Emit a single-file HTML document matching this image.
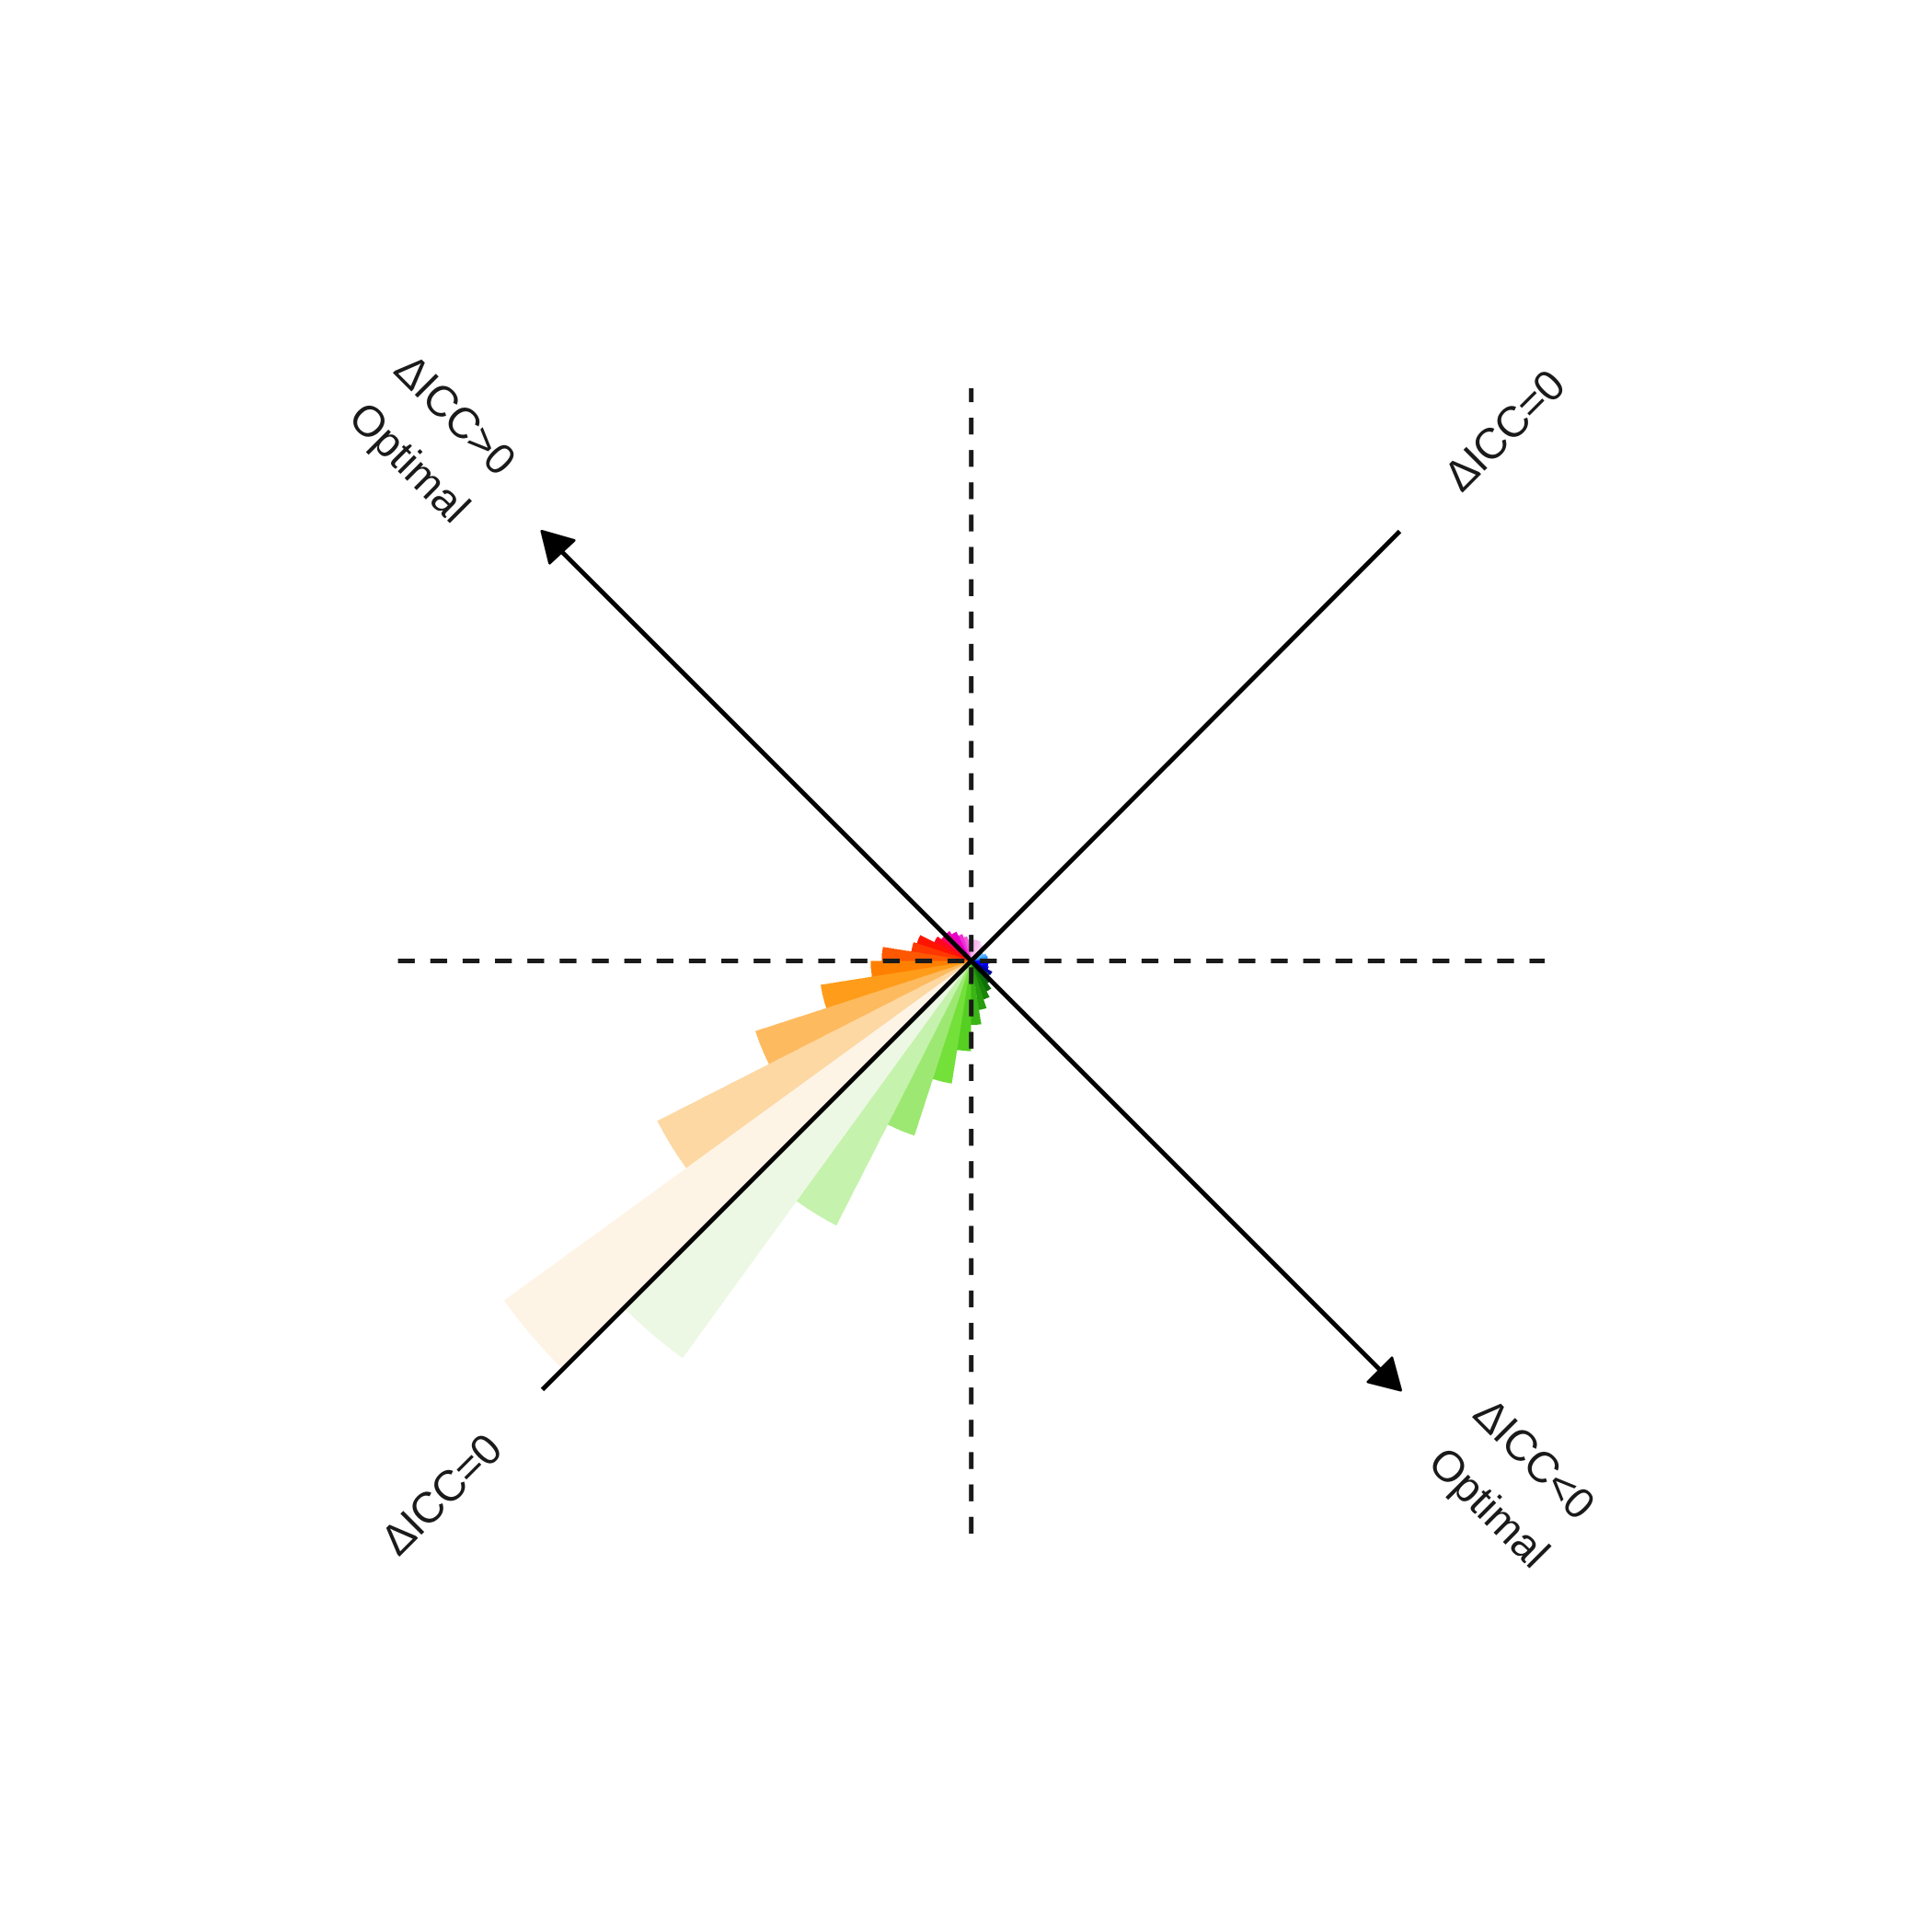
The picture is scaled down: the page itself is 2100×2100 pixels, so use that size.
<!DOCTYPE html>
<html lang="en">
<head>
<meta charset="utf-8">
<title>Rose diagram of delta ICC</title>
<style>
html,body{margin:0;padding:0;background:#fff;width:2100px;height:2100px;overflow:hidden}
svg{display:block}
text{font-family:"Liberation Sans",Arial,sans-serif;font-size:47px;fill:#1a1a1a;text-anchor:middle;dominant-baseline:central}
.delta{letter-spacing:-0.6px}
</style>
</head>
<body>
<svg id="chart" xmlns="http://www.w3.org/2000/svg" width="2100" height="2100" viewBox="0 0 2100 2100">
<rect width="2100" height="2100" fill="#fff"/>
<g id="bars" shape-rendering="crispEdges"></g>
<line x1="1055.7" y1="1667" x2="1055.7" y2="422" stroke="#1a1a1a" stroke-width="5" stroke-dasharray="18.3 16.84"/>
<line x1="432.6" y1="1044.5" x2="1679" y2="1044.5" stroke="#1a1a1a" stroke-width="5" stroke-dasharray="18.3 16.84"/>
<line x1="1055.7" y1="1044.5" x2="1521.5" y2="577.5" stroke="#000" stroke-width="5"/>
<line x1="1055.7" y1="1044.5" x2="589.5" y2="1510.5" stroke="#000" stroke-width="5"/>
<line x1="1055.7" y1="1044.5" x2="605" y2="594" stroke="#000" stroke-width="5"/>
<line x1="1055.7" y1="1044.5" x2="1505" y2="1494" stroke="#000" stroke-width="5"/>
<polygon points="589,577.5 624,587.5 597.5,612" fill="#000" stroke="#000" stroke-width="3" stroke-linejoin="round"/>
<polygon points="1522.5,1511 1513,1476 1487,1502" fill="#000" stroke="#000" stroke-width="3" stroke-linejoin="round"/>
<text class="delta" transform="translate(495 450) rotate(45)">ΔICC&gt;0</text>
<text transform="translate(445.5 502) rotate(45)">Optimal</text>
<text class="delta" transform="translate(1668 1585) rotate(45)">ΔICC&lt;0</text>
<text transform="translate(1619 1638) rotate(45)">Optimal</text>
<text class="delta" transform="translate(479 1624) rotate(-45)">ΔICC=0</text>
<text class="delta" transform="translate(1634.5 467.5) rotate(-45)">ΔICC=0</text>
</svg>
<script>
// Bin start angles in degrees, counter-clockwise from east
const binStartDegrees = [45,54,63,72,81,90,99,108,117,126,135,144,153,162,171,180,189,198,207,216,225,234,243,252,261,270,279,288,297,306,315,324,333,342,351,360,369,378,387,396];
// Bar heights, scaled so the tallest bin is 100
const binValues = [3.2,3.3,3.7,3.7,3.7,3.8,4.3,4.9,5.7,6.4,6.4,7.2,9.9,10.5,15.5,17.4,26.4,39.3,61,100,85,51.4,31.8,21.5,15.6,11.1,8.6,7,5.9,4.8,4,4.1,3.2,3,3.2,2.9,2.9,2.8,2.4,2.1];
const binColors = ['#fbd0f4','#fbd0f4','#f9c4f1','#f8b8ee','#f7b0ec','#f48ee4','#f05cd9','#ee30d4','#e800c8','#ee00b0','#fa0070','#ff0820','#ff1400','#ff3800','#ff5800','#ff8000','#ff9c19','#feba5f','#fdd8a3','#fef4e6','#ecf8e3','#c5f2ac','#9de873','#74e03a','#55cf22','#3ab515','#289d0f','#188508','#0c7004','#0a6020','#004a50','#00009a','#0000d0','#0000ff','#0000ff','#0050ff','#3090ff','#50b0ff','#70c0ff','#90d0ff'];
const binWidthDegrees = 9;
const centerX = 1055.7;
const centerY = 1044.5;
const pxPerUnit = 6.28;
function radiusAxis(value) { return value * pxPerUnit; }
function polarPoint(deg, radius) {
  const t = deg * Math.PI / 180;
  return [centerX + radius * Math.cos(t), centerY - radius * Math.sin(t)];
}
const barsGroup = document.getElementById('bars');
binStartDegrees.forEach(function (start, i) {
  const r = radiusAxis(binValues[i]);
  const a = polarPoint(start, r);
  const b = polarPoint(start + binWidthDegrees, r);
  const el = document.createElementNS('http://www.w3.org/2000/svg', 'path');
  el.setAttribute('d', 'M' + centerX + ' ' + centerY + 'L' + a[0].toFixed(2) + ' ' + a[1].toFixed(2) + 'A' + r.toFixed(2) + ' ' + r.toFixed(2) + ' 0 0 0 ' + b[0].toFixed(2) + ' ' + b[1].toFixed(2) + 'Z');
  el.setAttribute('fill', binColors[i]);
  
  
  barsGroup.appendChild(el);
});
</script>
</body>
</html>
